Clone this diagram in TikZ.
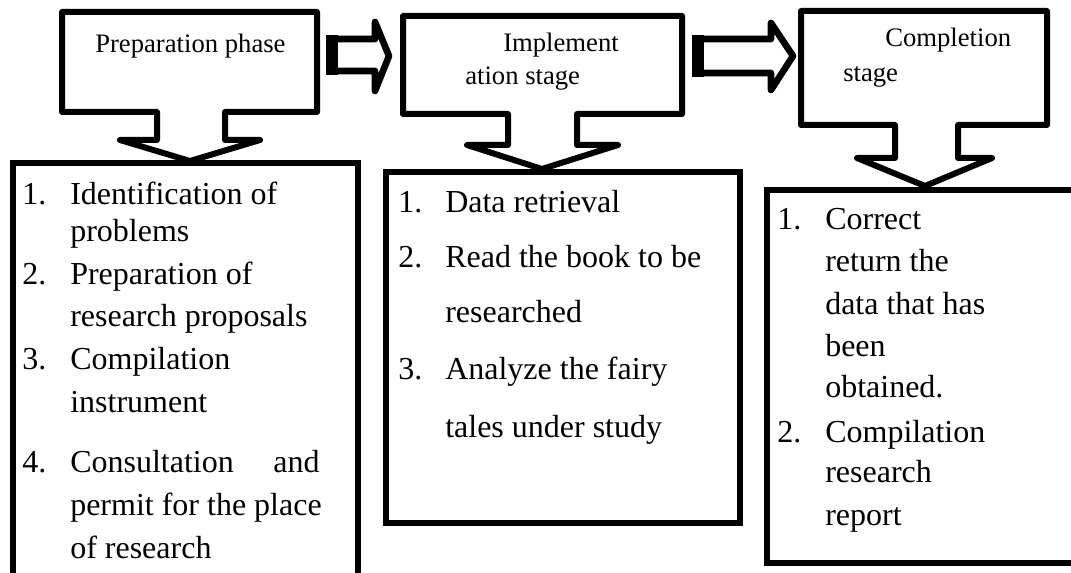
\documentclass[tikz,border=0pt]{standalone}
\usepackage{fontspec}
\setmainfont{Liberation Serif}

\begin{document}
\begin{tikzpicture}[x=0.75pt, y=-0.75pt,
    callout/.style={line width=4.5pt, line join=round},
    blockarrow/.style={line width=5pt, line join=round},
    listbox/.style={line width=4.8pt},
    head/.style={font=\fontsize{20}{24}\selectfont, anchor=base west, inner sep=0pt},
    item/.style={font=\fontsize{24}{28}\selectfont, anchor=base west, inner sep=0pt}]
  \useasboundingbox (0,0) rectangle (1071,573);
  \clip (0,0) rectangle (1071,573);

  % callouts of the three stages
  \draw[callout] (62,12) -- (317,12) -- (317,112) -- (225,112) -- (225,140) -- (260,140)
    -- (190,161) -- (120,140) -- (157,140) -- (157,112) -- (62,112) -- cycle;
  \draw[callout] (403,16) -- (682,16) -- (682,114) -- (577,114) -- (577,145) -- (618,145)
    -- (542,169) -- (467,145) -- (508,145) -- (508,114) -- (403,114) -- cycle;
  \draw[callout] (801,11) -- (1047,11) -- (1047,125) -- (958,125) -- (958,158) -- (992,158)
    -- (925,186) -- (857,158) -- (895,158) -- (895,125) -- (801,125) -- cycle;

  % block arrows between the stages
  \draw[blockarrow] (332,39) -- (375,39) -- (375,22) -- (389,56) -- (375,91) -- (375,71)
    -- (332,71) -- cycle;
  \fill (326,35) rectangle (338,75);
  \draw[blockarrow] (697,39) -- (771,39) -- (771,23) -- (793,56) -- (771,90) -- (771,73)
    -- (697,73) -- cycle;
  \fill (692,35) rectangle (704,77);

  % list boxes
  \draw[listbox] (13,163) rectangle (358,600);
  \draw[listbox] (386,172) rectangle (740,523);
  \draw[listbox] (767,190) rectangle (1100,563);

  \node[head] (prep) at (95,53) {Preparation phase};
  \node[head] (impl) at (503,52) {Implement};
  \node[head] (impl2) at (465,85) {ation stage};
  \node[head] (compl) at (885,47) {Completion};
  \node[head] (compl2) at (843,82) {stage};

  % preparation phase
  \node[item] (pn1) at (22,205) {1.};
  \node[item] (pt1) at (70,205) {Identification of};
  \node[item] (pt1b) at (70,242) {problems};
  \node[item] (pn2) at (22,285) {2.};
  \node[item] (pt2) at (70,285) {Preparation of};
  \node[item] (pt2b) at (70,327) {research proposals};
  \node[item] (pn3) at (22,370) {3.};
  \node[item] (pt3) at (70,370) {Compilation};
  \node[item] (pt3b) at (70,412) {instrument};
  \node[item] (pn4) at (22,473) {4.};
  \node[item] (pt4) at (70,473) {\makebox[187pt][s]{Consultation and}};
  \node[item] (pt4b) at (70,515) {permit for the place};
  \node[item] (pt4c) at (70,558) {of research};

  % implementation stage
  \node[item] (in1) at (398,213) {1.};
  \node[item] (it1) at (445,213) {Data retrieval};
  \node[item] (in2) at (398,268) {2.};
  \node[item] (it2) at (445,268) {Read the book to be};
  \node[item] (it2b) at (445,323) {researched};
  \node[item] (in3) at (398,380) {3.};
  \node[item] (it3) at (445,380) {Analyze the fairy};
  \node[item] (it3b) at (445,437) {tales under study};

  % completion stage
  \node[item] (cn1) at (777,230) {1.};
  \node[item] (ct1) at (825,230) {Correct};
  \node[item] (ct1b) at (825,272) {return the};
  \node[item] (ct1c) at (825,315) {data that has};
  \node[item] (ct1d) at (825,357) {been};
  \node[item] (ct1e) at (825,398) {obtained.};
  \node[item] (cn2) at (777,442) {2.};
  \node[item] (ct2) at (825,442) {Compilation};
  \node[item] (ct2b) at (825,483) {research};
  \node[item] (ct2c) at (825,525) {report};
\end{tikzpicture}
\end{document}
